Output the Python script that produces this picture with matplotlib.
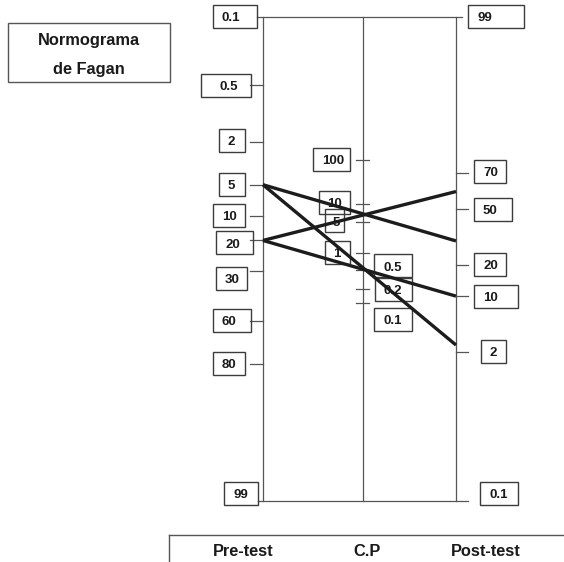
import matplotlib
matplotlib.use("Agg")
import matplotlib.pyplot as plt
from matplotlib.patches import Rectangle

plt.rcParams['font.family'] = ['Liberation Sans', 'DejaVu Sans']

# ---------------- data (scale positions: 0 = top of nomogram, 100 = bottom) ----
pre_labels = ["0.1", "0.5", "2", "5", "10", "20", "30", "60", "80", "99"]
pre_pos = [0, 14.2, 25.8, 34.7, 41.1, 46.2, 52.6, 62.8, 71.7, 100]
lr_labels = ["100", "10", "5", "1", "0.5", "0.2", "0.1"]
lr_pos = [29.6, 38.7, 42.3, 48.7, 52.3, 56.3, 59.1]
post_labels = ["99", "70", "50", "20", "10", "2", "0.1"]
post_pos = [0, 32.2, 39.8, 51.3, 57.7, 69.3, 100]
# straight lines: pre-test value -> post-test scale position
line_pre = ["5", "5", "20", "20"]
line_post = [46.3, 67.8, 36.1, 57.7]
axis_titles = ["Pre-test", "C.P", "Post-test"]
title_lines = ["Normograma", "de Fagan"]

# ---------------- layout / style ----------------
W, H = 564, 562
TOP_PX, BOT_PX = 16.7, 501.0
PXU = 100.0 / (BOT_PX - TOP_PX)          # scale units per pixel
X_PRE, X_LR, X_POST = 263, 363, 456
AX_COL = "#555555"
BOX_COL = "#3c3c3c"
LINE_COL = "#1c1c1c"
FS_TICK = 9.5
FS_TITLE = 11.8

# label boxes: (x0, x1, vertical offset of box centre from tick in px, text x)
pre_box = [(213, 257, 0, 222), (201, 251, 0, 219), (219, 245, -1, 228),
           (219, 245, -0.7, 228), (213, 245, -0.7, 222), (216, 253, 2.5, 225),
           (216, 247, 6.7, 225), (213, 251, -0.5, 222), (213, 245, -0.5, 222),
           (224, 258, -7.5, 233)]
lr_box = [(313, 350, -0.5, 322), (319, 350, -1.5, 327), (325, 344, -0.7, 333),
          (325, 350, 0, 333), (374, 412, -4, 383), (375, 412, 0, 384),
          (374, 412, 16.3, 383)]
post_box = [(468, 524, 0, 477), (474, 506, -1, 483), (474, 512, 0, 483),
            (474, 506, -1, 483), (474, 518, 0, 483), (481, 506, -1, 489),
            (480, 518, -7.5, 489)]
BOX_H = 23

fig = plt.figure(figsize=(W / 100, H / 100), dpi=100)
fig.patch.set_facecolor("white")

# overlay axes in pixel coordinates for title and footer
lay = fig.add_axes([0, 0, 1, 1])
lay.set_xlim(0, W)
lay.set_ylim(H, 0)
lay.axis("off")

# nomogram axes: y in scale units
ax = fig.add_axes([0, (H - BOT_PX) / H, 1, (BOT_PX - TOP_PX) / H])
ax.set_xlim(0, W)
ax.set_ylim(100, 0)
ax.axis("off")

# vertical scales
for x in (X_PRE, X_LR, X_POST):
    ax.plot([x, x], [0, 100], color=AX_COL, lw=0.9, clip_on=False, zorder=2)
# top and bottom lines
ax.plot([257, 462], [0, 0], color=AX_COL, lw=0.9, clip_on=False, zorder=2)
ax.plot([258, 468], [100, 100], color=AX_COL, lw=0.9, clip_on=False, zorder=2)


def draw_box(x0, x1, yc, text, tx):
    h = BOX_H * PXU
    ax.add_patch(Rectangle((x0, yc - h / 2), x1 - x0, h, fill=False,
                           edgecolor=BOX_COL, lw=1.0, clip_on=False, zorder=3))
    ax.text(tx, yc + 4.7 * PXU, text, fontsize=FS_TICK, fontweight="bold",
            color="#1a1a1a", ha="left", va="baseline", clip_on=False, zorder=3)


# pre-test ticks and labels
for lab, p, b in zip(pre_labels, pre_pos, pre_box):
    if 0 < p < 100:
        ax.plot([250, X_PRE], [p, p], color=AX_COL, lw=0.9, clip_on=False, zorder=2)
    draw_box(b[0], b[1], p + b[2] * PXU, lab, b[3])

# likelihood ratio ticks and labels
for lab, p, b in zip(lr_labels, lr_pos, lr_box):
    ax.plot([356, 369], [p, p], color=AX_COL, lw=0.9, clip_on=False, zorder=2)
    draw_box(b[0], b[1], p + b[2] * PXU, lab, b[3])

# post-test ticks and labels
for lab, p, b in zip(post_labels, post_pos, post_box):
    if 0 < p < 100:
        ax.plot([X_POST, 468], [p, p], color=AX_COL, lw=0.9, clip_on=False, zorder=2)
    draw_box(b[0], b[1], p + b[2] * PXU, lab, b[3])

# straight lines through the nomogram
pre_lookup = dict(zip(pre_labels, pre_pos))
for lp, pp in zip(line_pre, line_post):
    ax.plot([X_PRE, X_POST], [pre_lookup[lp], pp], color=LINE_COL, lw=2.4,
            solid_capstyle="butt", clip_on=False, zorder=5)

# title box
lay.add_patch(Rectangle((8, 23), 162, 59, fill=False, edgecolor=AX_COL, lw=1.0))
lay.text(89, 45, title_lines[0], fontsize=FS_TITLE, fontweight="bold",
         color="#1a1a1a", ha="center", va="baseline")
lay.text(89, 74, title_lines[1], fontsize=FS_TITLE, fontweight="bold",
         color="#1a1a1a", ha="center", va="baseline")

# footer box with scale names
lay.plot([169, 169], [535, H + 2], color=AX_COL, lw=1.0, clip_on=False)
lay.plot([169, W + 2], [535, 535], color=AX_COL, lw=1.0, clip_on=False)
for xc, t in zip((243, 367, 486), axis_titles):
    lay.text(xc, 556, t, fontsize=FS_TITLE, fontweight="bold",
             color="#1a1a1a", ha="center", va="baseline")

fig.savefig("out.png", dpi=100, facecolor="white")
